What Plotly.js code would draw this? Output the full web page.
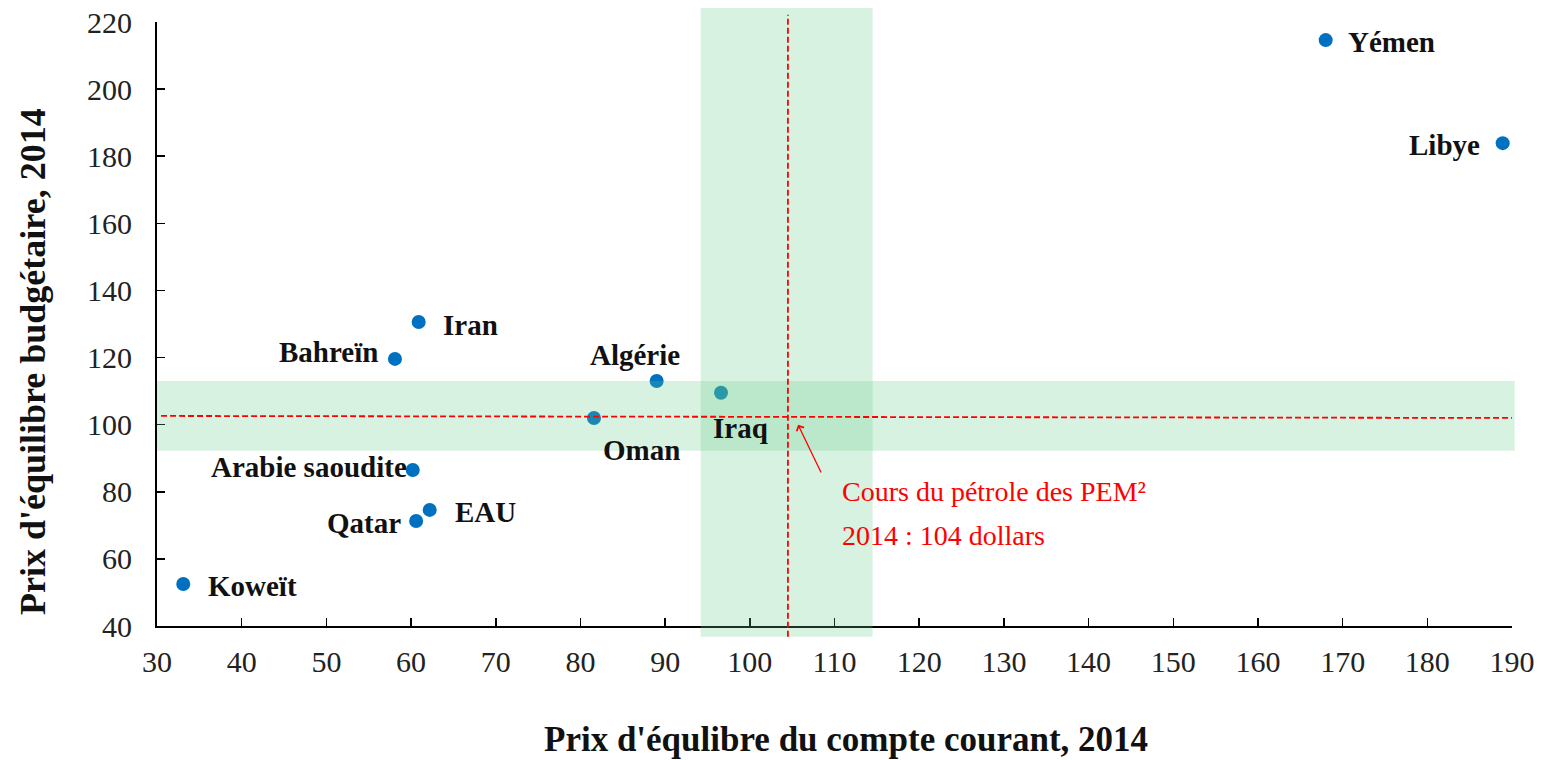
<!DOCTYPE html>
<html>
<head>
<meta charset="utf-8">
<script src="https://cdn.plot.ly/plotly-3.0.1.min.js"></script>
<style>html,body{margin:0;padding:0;background:#fff;}#chart{width:1545px;height:760px;}</style>
</head>
<body>
<div id="chart"></div>
<script>
// ---- data ----
const countries = ["Yémen","Libye","Iran","Bahreïn","Algérie","Iraq","Oman","Arabie saoudite","EAU","Qatar","Koweït"];
const currentAccount = [168.0, 188.9, 60.9, 58.1, 89.0, 96.6, 81.6, 60.2, 62.2, 60.6, 33.1];
const budget = [214.6, 183.9, 130.6, 119.6, 113.0, 109.5, 102.0, 86.5, 74.6, 71.3, 52.5];
const oilPrice = 104.5;          // cours du pétrole (x reference)
const oilBandX = [94.2, 114.5];  // band around x reference
const budgetRef = [102.6, 102.0];// horizontal reference line (start, end)
const budgetBandY = [92.2, 113.0];
const xTicks = [30,40,50,60,70,80,90,100,110,120,130,140,150,160,170,180,190];
const yTicks = [40,60,80,100,120,140,160,180,200,220];
const noteLines = ["Cours du pétrole des PEM²", "2014 : 104 dollars"];

// label placement (pixel offsets from point)
const labelPos = [
  {xa:"left", dx:20, dy:-2},
  {xa:"right", dx:-21, dy:-2},
  {xa:"left", dx:22, dy:-3},
  {xa:"right", dx:-15, dy:7},
  {xa:"center", dx:-22, dy:26},
  {xa:"center", dx:19, dy:-35},
  {xa:"center", dx:48, dy:-32},
  {xa:"right", dx:-4, dy:3},
  {xa:"left", dx:23, dy:-2},
  {xa:"right", dx:-13, dy:-2},
  {xa:"left", dx:23, dy:-2}
];

const FONT = "Liberation Serif, Times New Roman, serif";
const green = "rgba(100,205,135,0.25)";

const trace = {
  x: currentAccount, y: budget, type: "scatter", mode: "markers",
  marker: {color: "#0070C0", size: 14},
  hoverinfo: "skip", cliponaxis: false
};

const annotations = countries.map((c, i) => ({
  x: currentAccount[i], y: budget[i], xref: "x", yref: "y",
  text: "<b>" + c + "</b>", showarrow: false,
  xanchor: labelPos[i].xa, yanchor: "middle",
  xshift: labelPos[i].dx, yshift: labelPos[i].dy,
  font: {family: FONT, size: 29, color: "#111"}
}));

annotations.push({
  x: oilPrice + 1.2, y: 100, xref: "x", yref: "y",
  ax: oilPrice + 4.0, ay: 85.3, axref: "x", ayref: "y",
  text: "", showarrow: true, arrowhead: 4, arrowsize: 1.2, arrowwidth: 1.3,
  arrowcolor: "#FF0000", standoff: 0
});
annotations.push({
  x: 110.6, y: 80.0, xref: "x", yref: "y", text: noteLines[0],
  showarrow: false, xanchor: "left", yanchor: "middle",
  font: {family: FONT, size: 28, color: "#FF0000"}
});
annotations.push({
  x: 110.6, y: 67.1, xref: "x", yref: "y", text: noteLines[1],
  showarrow: false, xanchor: "left", yanchor: "middle",
  font: {family: FONT, size: 28, color: "#FF0000"}
});
// axis titles
annotations.push({
  x: 0.5085, y: 0, xref: "paper", yref: "paper", yshift: -113,
  text: "<b>Prix d'équlibre du compte courant, 2014</b>", showarrow: false,
  xanchor: "center", yanchor: "middle", borderpad: 0,
  font: {family: FONT, size: 35, color: "#111"}
});
annotations.push({
  x: 0, y: 0.437, xref: "paper", yref: "paper", xshift: -124,
  text: "<b>Prix d'équilibre budgétaire, 2014</b>", showarrow: false, textangle: -90,
  xanchor: "center", yanchor: "middle",
  font: {family: FONT, size: 36, color: "#111"}
});

const shapes = [
  {type: "rect", xref: "x", yref: "paper", x0: oilBandX[0], x1: oilBandX[1], y0: -0.018, y1: 1.023,
   fillcolor: green, line: {width: 0}, layer: "above"},
  {type: "rect", xref: "paper", yref: "y", x0: 0, x1: 1.002, y0: budgetBandY[0], y1: budgetBandY[1],
   fillcolor: green, line: {width: 0}, layer: "above"},
  {type: "line", xref: "x", yref: "paper", x0: oilPrice, x1: oilPrice, y0: -0.018, y1: 1.012,
   line: {color: "#FF0000", width: 1.8, dash: "6px,3px"}, layer: "above"},
  {type: "line", xref: "paper", yref: "y", x0: 0.003, x1: 1, y0: budgetRef[0], y1: budgetRef[1],
   line: {color: "#FF0000", width: 1.8, dash: "6px,3px"}, layer: "above"}
];

const layout = {
  width: 1545, height: 760,
  margin: {l: 157, r: 33, t: 22, b: 134},
  paper_bgcolor: "#fff", plot_bgcolor: "#fff",
  showlegend: false,
  font: {family: FONT, color: "#111"},
  xaxis: {
    range: [30, 190], tickvals: xTicks, ticktext: xTicks.map(String),
    showgrid: false, zeroline: false, showline: true, linecolor: "#000", linewidth: 2,
    ticks: "inside", ticklen: 8, tickwidth: 1.5, tickcolor: "#000",
    ticklabelstandoff: 8,
    tickfont: {family: FONT, size: 30, color: "#222"}
  },
  yaxis: {
    range: [40, 220], tickvals: yTicks, ticktext: yTicks.map(String),
    showgrid: false, zeroline: false, showline: true, linecolor: "#000", linewidth: 2,
    ticks: "inside", ticklen: 8, tickwidth: 1.5, tickcolor: "#000",
    ticklabelstandoff: 17,
    tickfont: {family: FONT, size: 30, color: "#222"}
  },
  shapes: shapes,
  annotations: annotations
};

Plotly.newPlot("chart", [trace], layout, {displayModeBar: false, staticPlot: true});
</script>
</body>
</html>
